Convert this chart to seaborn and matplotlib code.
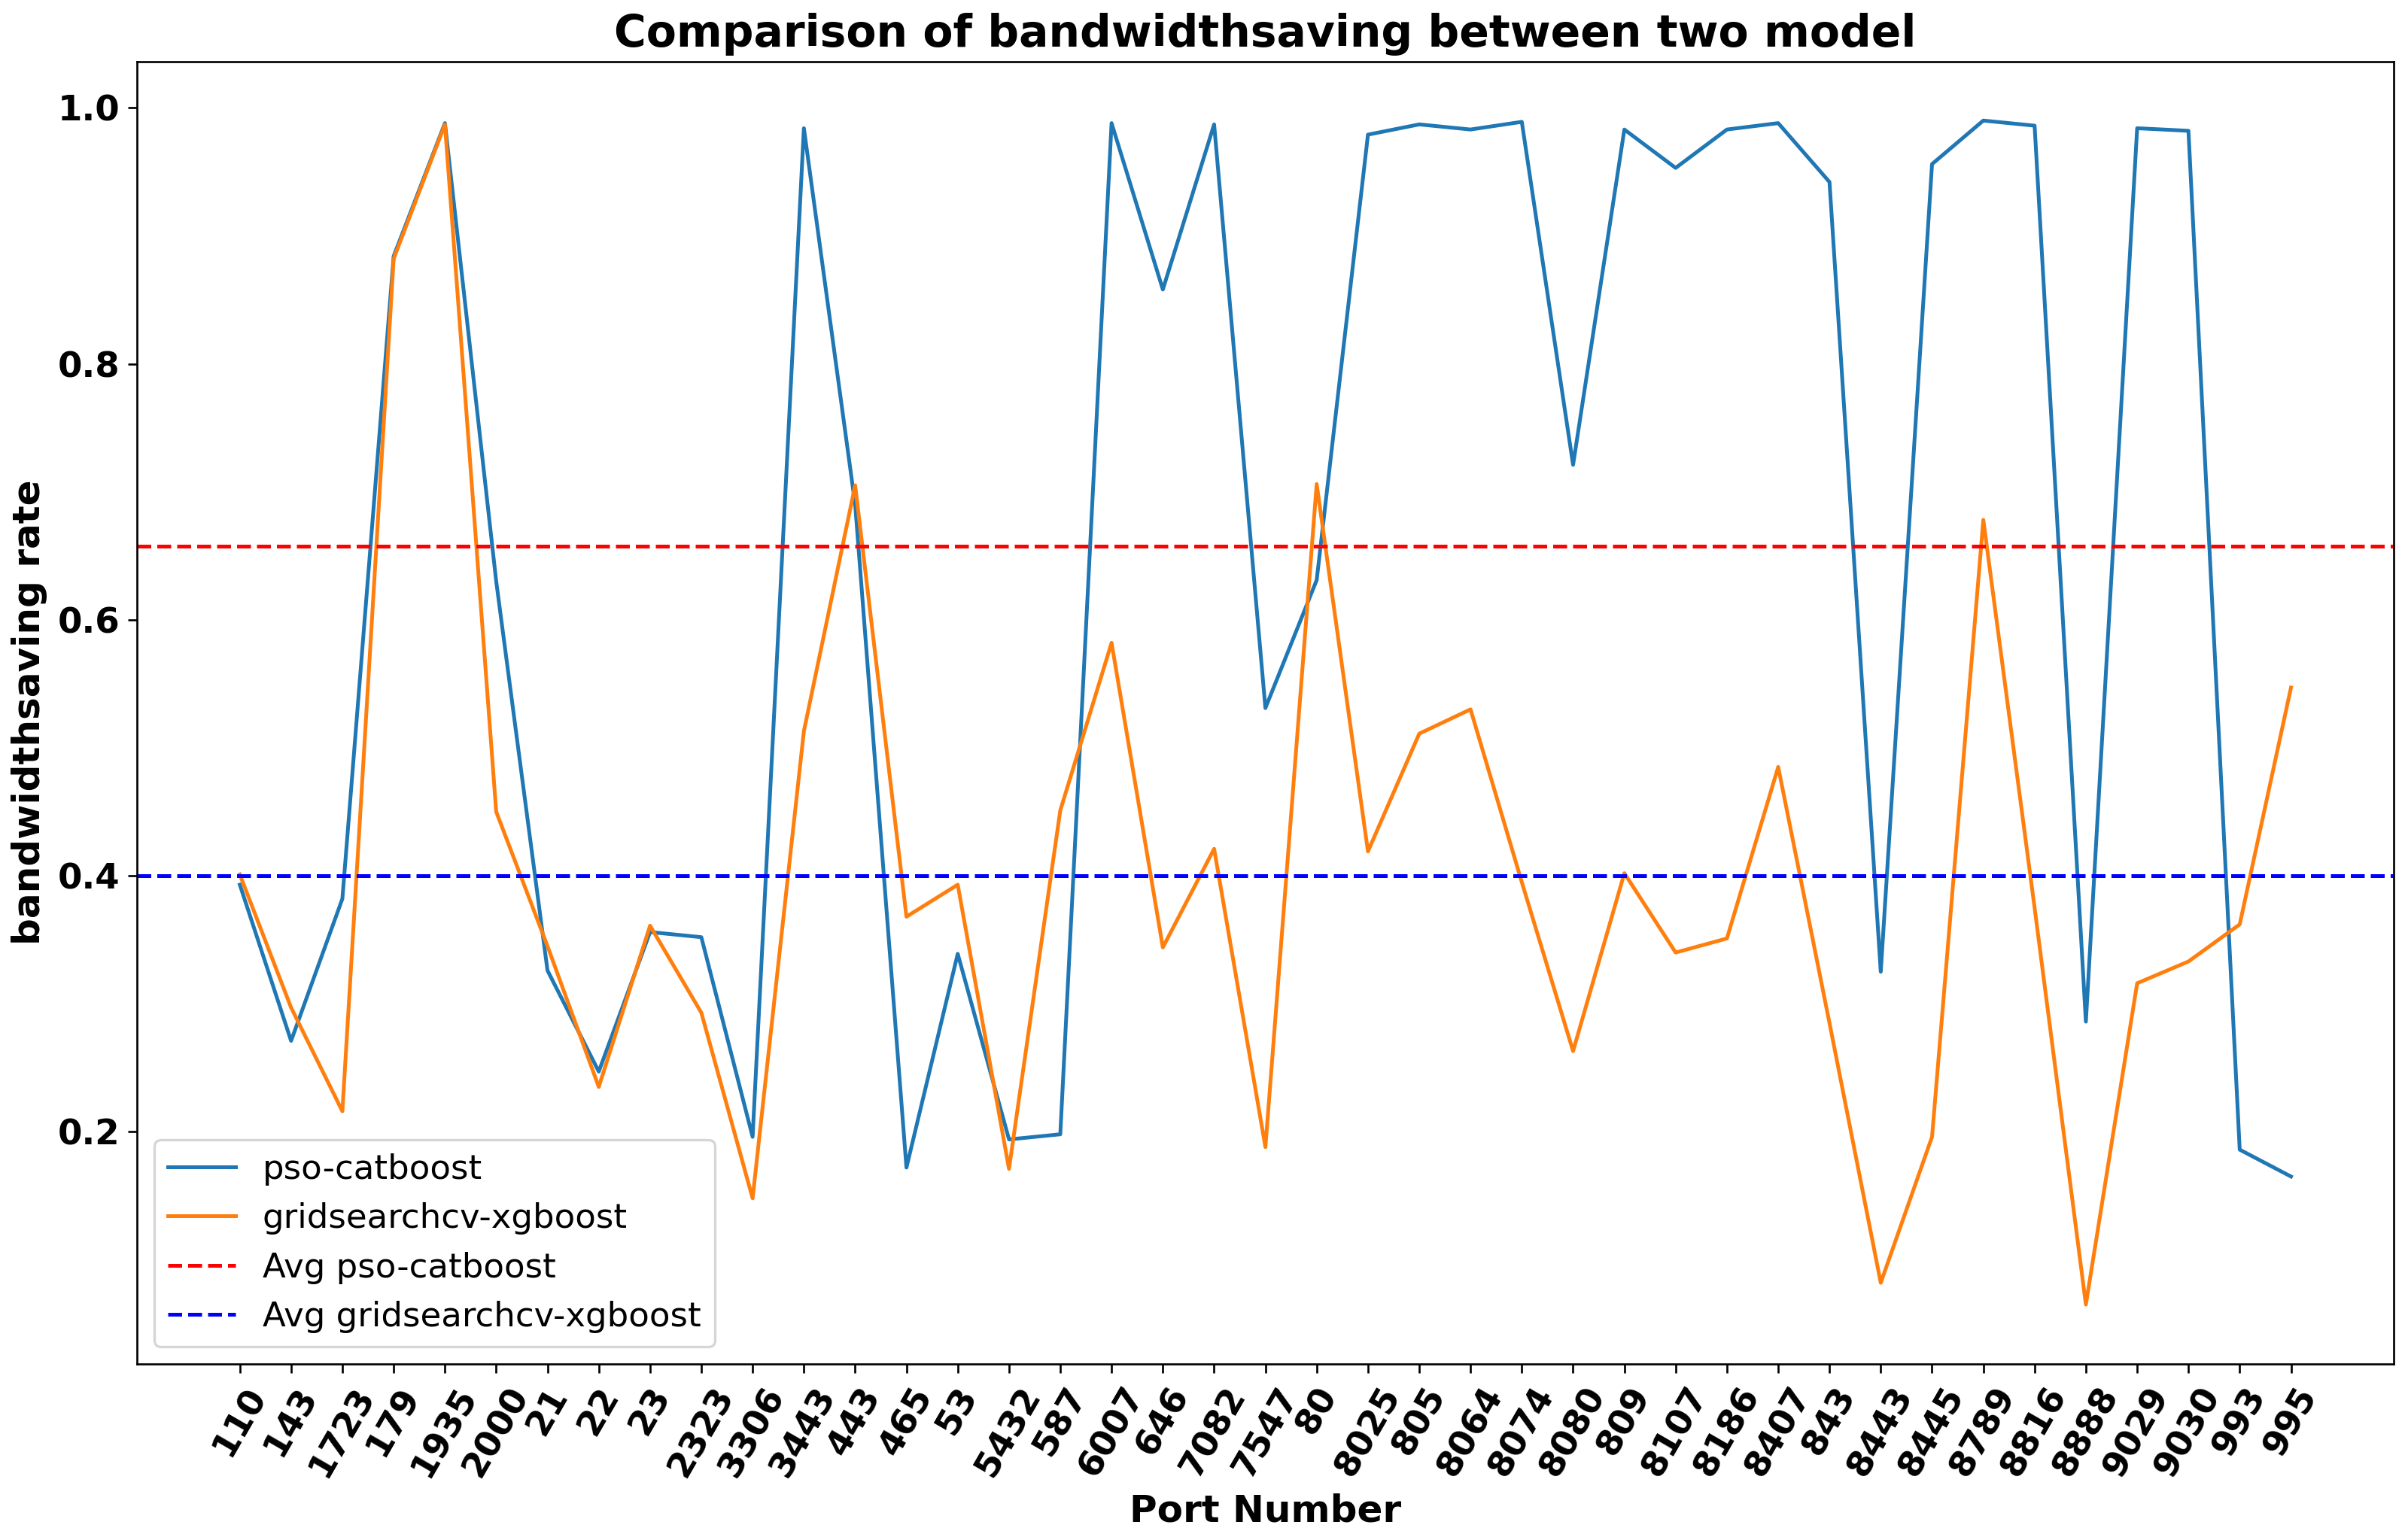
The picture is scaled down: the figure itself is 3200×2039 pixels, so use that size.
import pandas as pd
import numpy as np
import matplotlib
matplotlib.use("Agg")
import matplotlib.pyplot as plt
import seaborn as sns

# Port numbers (kept as strings, order as in the chart)
ports = ["110", "143", "1723", "179", "1935", "2000", "21", "22", "23", "2323",
         "3306", "3443", "443", "465", "53", "5432", "587", "6007", "646", "7082",
         "7547", "80", "8025", "805", "8064", "8074", "8080", "809", "8107", "8186",
         "8407", "843", "8443", "8445", "8789", "8816", "8888", "9029", "9030", "993",
         "995"]

pso_catboost = [0.393, 0.271, 0.382, 0.884, 0.988, 0.630, 0.326, 0.247, 0.356, 0.352,
                0.196, 0.984, 0.690, 0.172, 0.339, 0.194, 0.198, 0.988, 0.858, 0.987,
                0.531, 0.631, 0.979, 0.987, 0.983, 0.989, 0.721, 0.983, 0.953, 0.983,
                0.988, 0.942, 0.325, 0.956, 0.990, 0.986, 0.286, 0.984, 0.982, 0.186,
                0.165]

gridsearchcv_xgboost = [0.401, 0.297, 0.216, 0.882, 0.987, 0.450, 0.345, 0.235, 0.361, 0.293,
                        0.148, 0.513, 0.705, 0.368, 0.393, 0.171, 0.451, 0.582, 0.344, 0.421,
                        0.188, 0.706, 0.419, 0.511, 0.530, 0.395, 0.263, 0.402, 0.340, 0.351,
                        0.485, 0.285, 0.082, 0.196, 0.678, 0.375, 0.065, 0.316, 0.333, 0.362,
                        0.547]

df = pd.DataFrame({
    "port": ports,
    "pso-catboost": pso_catboost,
    "gridsearchcv-xgboost": gridsearchcv_xgboost,
})

avg_pso = np.mean(pso_catboost)
avg_grid = np.mean(gridsearchcv_xgboost)

fig, ax = plt.subplots(figsize=(3200 / 240, 2039 / 240), dpi=240)

sns.lineplot(data=df, x="port", y="pso-catboost", label="pso-catboost", ax=ax)
sns.lineplot(data=df, x="port", y="gridsearchcv-xgboost", label="gridsearchcv-xgboost", ax=ax)

ax.axhline(avg_pso, color="red", linestyle="--", label="Avg pso-catboost")
ax.axhline(avg_grid, color="blue", linestyle="--", label="Avg gridsearchcv-xgboost")

ax.set_title("Comparison of bandwidthsaving between two model", fontsize=17.5, fontweight="bold")
ax.set_xlabel("Port Number", fontsize=15, fontweight="bold")
ax.set_ylabel("bandwidthsaving rate", fontsize=15, fontweight="bold")

plt.xticks(rotation=60, fontsize=14, fontweight="bold")
plt.yticks(fontsize=14, fontweight="bold")

ax.legend(loc="lower left", fontsize=13.5)

plt.subplots_adjust(left=0.057, right=0.994, top=0.96, bottom=0.111)
plt.savefig("out.png")
